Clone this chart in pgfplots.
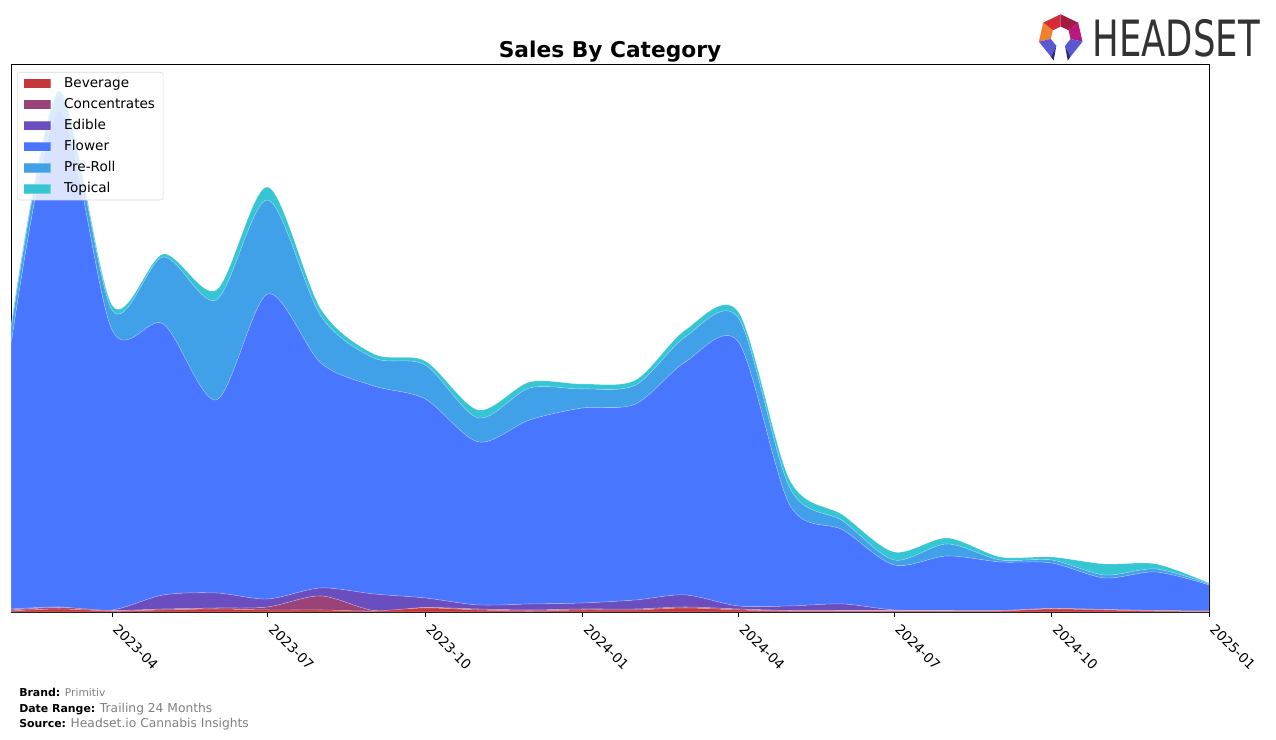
\documentclass[border=0pt]{standalone}
\usepackage{fontspec}
\setmainfont{DejaVu Sans}
\usepackage{pgfplots}
\usepackage{pgfplotstable}
\usetikzlibrary{calc}
\pgfplotsset{compat=1.18}
\definecolor{bev}{HTML}{C4383C}
\definecolor{con}{HTML}{9A4378}
\definecolor{edi}{HTML}{6A4EC0}
\definecolor{flo}{HTML}{4876FE}
\definecolor{pre}{HTML}{40A0E8}
\definecolor{top}{HTML}{35C5D3}
\definecolor{lgA}{HTML}{D42A3A}
\definecolor{lgB}{HTML}{A31A42}
\definecolor{lgC}{HTML}{B8197A}
\definecolor{lgD}{HTML}{F08030}
\definecolor{lgE}{HTML}{5A58D0}
\definecolor{lgF}{HTML}{2A2A80}
\pgfplotstableread{
d B C E F P T
0 1 1 1 264 15 5
28 3 1.5 0.5 497 16 3
59 1 0.5 0.5 280 20 5
89 2 1 14 271 67 3
120 3 1 15 193 100 10
150 2 3 8 305 94 13
181 2 14 8 225 47 7
212 1 0.5 16.5 208 28 4
242 4 0.5 9.5 199 34 4
273 2 1 4 163 24 8
303 1 1 6 184 32 6
334 2 1 6 195 19 5
365 2 1 9 196 19 5
394 4 1 12 233 25 7
425 2 1 3 264 24 6
455 1 0.5 4.5 101 17 8
486 1 0.5 6.5 74 9 6
516 1 0.5 0.5 45 5 8
547 1 0.5 0 54.5 12 6
578 1 0.5 0 48.5 2 3
608 3 0.5 0 45.5 3 3
639 2 0.5 0 31.5 3 11
669 1 0.5 0 38.5 3 5
700 0.5 0.5 0 26 1 1
}\data
\begin{document}
\begin{tikzpicture}
\useasboundingbox (0,0) rectangle (957pt,554.25pt);
\begin{axis}[
  at={(8.25pt,95.25pt)}, anchor=south west, scale only axis,
  width=898.5pt, height=410.25pt,
  xmin=0, xmax=700, ymin=0, ymax=547,
  stack plots=y,
  every axis plot/.append style={draw=white, draw opacity=0.3, line width=0.4pt},
  xtick={59,150,242,334,425,516,608,700},
  xticklabels={2023-04,2023-07,2023-10,2024-01,2024-04,2024-07,2024-10,2025-01},
  xticklabel style={xshift=5.5pt, yshift=-3pt, rotate=-45, anchor=north west, font=\fontsize{10.2}{12}\selectfont, inner sep=1pt},
  ytick=\empty,
  xtick pos=bottom, xtick align=outside, major tick length=3.75pt,
  tick style={black, line width=0.6pt},
  axis line style={line width=0.75pt},
  legend image code/.code={\fill[#1, sharp corners, fill opacity=1] (0pt,-3.6pt) rectangle (20.25pt,3.6pt);},
  legend style={at={(0,1)}, anchor=north west, xshift=4.5pt, yshift=-5.25pt,
    draw=black!15, rounded corners=2pt, fill=white, fill opacity=0.8, text opacity=1,
    font=\fontsize{10.2}{12}\selectfont, inner xsep=4.5pt, inner ysep=2pt, row sep=3pt, column sep=8.5pt,
    nodes={text height=7.6pt, text depth=2.2pt, inner sep=1.5pt}},
  legend cell align=left,
]
\addplot[fill=bev, smooth] table[x=d, y=B] {\data} \closedcycle;
\addlegendentry{Beverage}
\addplot[fill=con, smooth] table[x=d, y=C] {\data} \closedcycle;
\addlegendentry{Concentrates}
\addplot[fill=edi, smooth] table[x=d, y=E] {\data} \closedcycle;
\addlegendentry{Edible}
\addplot[fill=flo, smooth] table[x=d, y=F] {\data} \closedcycle;
\addlegendentry{Flower}
\addplot[fill=pre, smooth] table[x=d, y=P] {\data} \closedcycle;
\addlegendentry{Pre-Roll}
\addplot[fill=top, smooth] table[x=d, y=T] {\data} \closedcycle;
\addlegendentry{Topical}
\end{axis}
\node[anchor=base, font=\fontsize{16.3}{18}\selectfont\bfseries] at (457.5pt,510.75pt) {Sales By Category};
\node[anchor=base west, inner sep=0pt, font=\fontsize{8.2}{10}\selectfont] at (14.25pt,32.25pt) {\textbf{Brand:} {\color{black!50}\fontsize{8}{10}\selectfont Primitiv}};
\node[anchor=base west, inner sep=0pt, font=\fontsize{8.2}{10}\selectfont] at (14.25pt,20.25pt) {\textbf{Date Range:} {\color{black!50}\fontsize{9.2}{10}\selectfont Trailing 24 Months}};
\node[anchor=base west, inner sep=0pt, font=\fontsize{8.2}{10}\selectfont] at (14.25pt,9pt) {\textbf{Source:} {\color{black!50}\fontsize{9.2}{10}\selectfont Headset.io Cannabis Insights}};
% logo
\begin{scope}[shift={(795.5pt,526.75pt)}]
\def\ro{16.8pt}\def\ri{7.6pt}
\fill[lgA] (141.4:\ro) -- (90:\ro) -- (90:\ri) -- (141.4:\ri) -- cycle;
\fill[lgB] (90:\ro) -- (38.6:\ro) -- (38.6:\ri) -- (90:\ri) -- cycle;
\fill[lgC] (38.6:\ro) -- (-12.9:\ro) -- (-12.9:\ri) -- (38.6:\ri) -- cycle;
\fill[lgD] (-167.1:\ro) -- (141.4:\ro) -- (141.4:\ri) -- (-167.1:\ri) -- cycle;
\fill[lgE] (-115.7:\ro) -- (-167.1:\ro) -- (-167.1:\ri) -- (-115.7:\ri) -- cycle;
\fill[lgE] (-12.9:\ro) -- (-64.3:\ro) -- (-64.3:\ri) -- (-12.9:\ri) -- cycle;
\fill[lgF] (-115.7:\ro) -- (-115.7:\ri) -- ($(-115.7:\ro)!0.5!(-115.7:\ri)+(0,-7pt)$) -- cycle;
\fill[lgF] (-64.3:\ro) -- (-64.3:\ri) -- ($(-64.3:\ro)!0.5!(-64.3:\ri)+(0,-7pt)$) -- cycle;
\end{scope}
\node[font=\fontsize{37.5}{40}\selectfont, text=black!80, inner sep=0pt] at (882pt,525.5pt) {\scalebox{0.71}[1]{HEADSET}};
\end{tikzpicture}
\end{document}
